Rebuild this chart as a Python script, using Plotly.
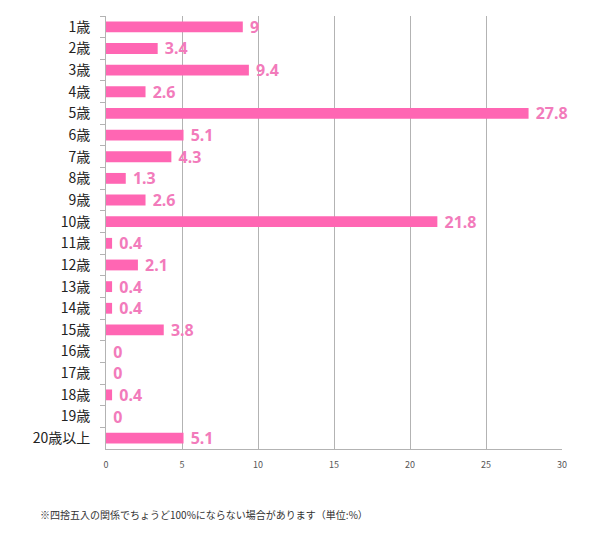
import plotly.graph_objects as go

categories = ["1歳", "2歳", "3歳", "4歳", "5歳", "6歳", "7歳", "8歳", "9歳", "10歳",
              "11歳", "12歳", "13歳", "14歳", "15歳", "16歳", "17歳", "18歳", "19歳", "20歳以上"]
values = [9, 3.4, 9.4, 2.6, 27.8, 5.1, 4.3, 1.3, 2.6, 21.8,
          0.4, 2.1, 0.4, 0.4, 3.8, 0, 0, 0.4, 0, 5.1]
x_ticks = [0, 5, 10, 15, 20, 25, 30]
footnote = "※四捨五入の関係でちょうど100%にならない場合があります（単位:%）"

fig = go.Figure(go.Bar(
    x=values, y=categories, orientation="h",
    marker=dict(color="#ff66b3", line=dict(width=0)),
    width=0.5,
    text=[f" {v:g}" for v in values],
    textposition="outside",
    constraintext="none",
    textfont=dict(color="#f27bbb", size=16, family="Noto Sans, sans-serif", weight="bold"),
    cliponaxis=False,
))

fig.update_layout(
    width=611, height=533,
    margin=dict(l=98, r=57, t=8, b=92, autoexpand=False),
    paper_bgcolor="white", plot_bgcolor="white",
    showlegend=False,
    font=dict(family="Noto Sans CJK JP, sans-serif"),
)
fig.update_xaxes(
    range=[0, 30], tickvals=x_ticks, showgrid=True, gridcolor="#b3b3b3", gridwidth=1,
    showline=True, linecolor="#b3b3b3", zeroline=False, automargin=False,
    tickfont=dict(size=9, color="#555555"), ticks="", ticklen=0, ticklabelstandoff=7,
)
fig.update_yaxes(
    autorange="reversed", type="category", automargin=False,
    showline=True, linecolor="#b3b3b3", ticks="outside", tickson="boundaries",
    ticklen=5, tickcolor="#b3b3b3", ticklabelstandoff=12,
    tickfont=dict(size=14, color="#222222"),
)
fig.add_annotation(
    text=footnote, xref="paper", yref="paper", x=-0.149, y=-0.152,
    xanchor="left", yanchor="middle", showarrow=False,
    font=dict(size=10, color="#333333", family="Noto Sans CJK JP, sans-serif"),
)
fig.write_html("out.html")
